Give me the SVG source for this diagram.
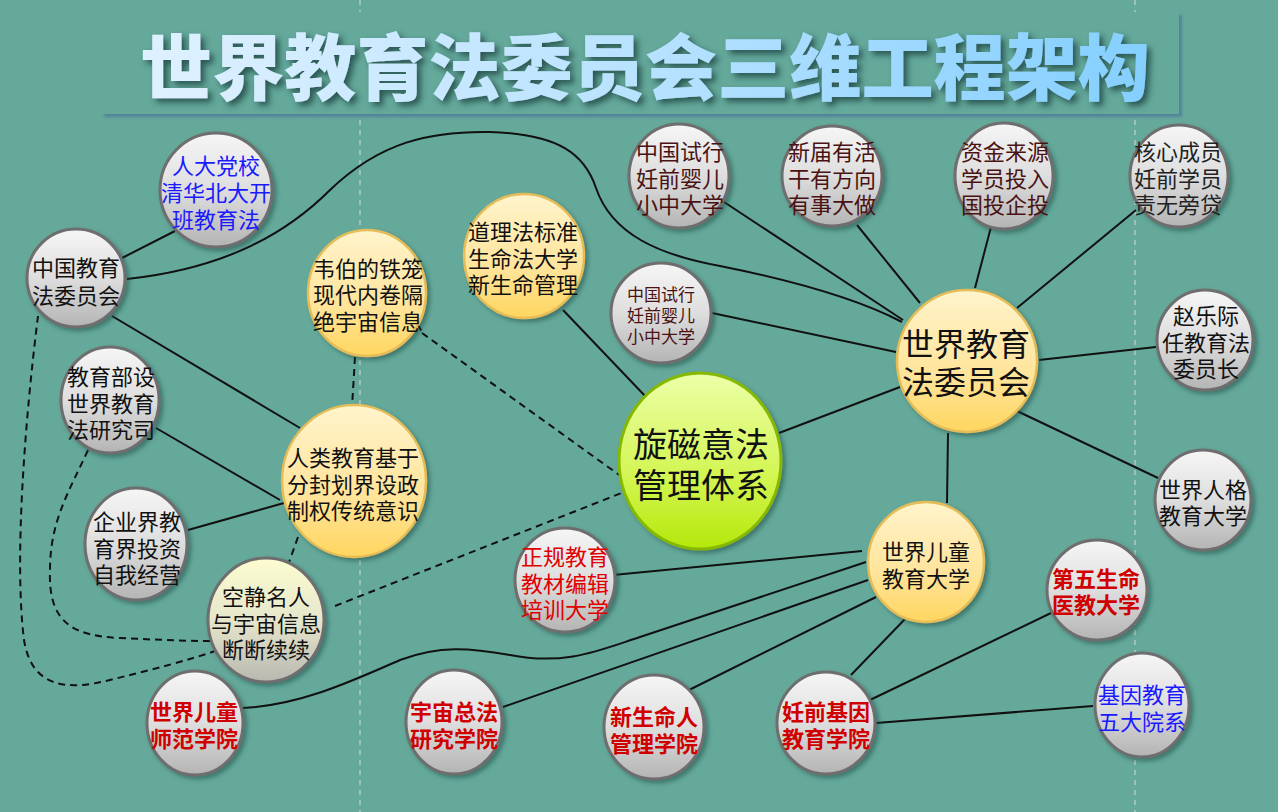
<svg xmlns="http://www.w3.org/2000/svg" width="1278" height="812" viewBox="0 0 1278 812">
<defs>
<linearGradient id="gGray" x1="0" y1="0" x2="0" y2="1"><stop offset="0" stop-color="#f6f6f6"/><stop offset="0.5" stop-color="#dedede"/><stop offset="1" stop-color="#b4b4b4"/></linearGradient>
<linearGradient id="gCream" x1="0" y1="0" x2="0" y2="1"><stop offset="0" stop-color="#fdfdd0"/><stop offset="0.5" stop-color="#e6e6cc"/><stop offset="1" stop-color="#b8b8b0"/></linearGradient>
<linearGradient id="gYel" x1="0" y1="0" x2="0" y2="1"><stop offset="0" stop-color="#fff4cc"/><stop offset="0.6" stop-color="#ffe49a"/><stop offset="1" stop-color="#ffd660"/></linearGradient>
<linearGradient id="gGrn" x1="0" y1="0" x2="0" y2="1"><stop offset="0" stop-color="#ecffa8"/><stop offset="0.6" stop-color="#d2f550"/><stop offset="1" stop-color="#b4e80a"/></linearGradient>
<linearGradient id="gTitle" gradientUnits="userSpaceOnUse" x1="140" y1="0" x2="1150" y2="0"><stop offset="0" stop-color="#dff1ff"/><stop offset="0.5" stop-color="#b8e2ff"/><stop offset="1" stop-color="#84cfff"/></linearGradient>
<filter id="sh" x="-20%" y="-20%" width="150%" height="150%"><feDropShadow dx="3" dy="3" stdDeviation="2" flood-color="#24504a" flood-opacity="0.55"/></filter>
<filter id="tsh" x="-5%" y="-20%" width="110%" height="150%"><feDropShadow dx="4" dy="4" stdDeviation="3" flood-color="#1c4644" flood-opacity="0.85"/></filter>
<filter id="bsh" x="-5%" y="-20%" width="110%" height="150%"><feDropShadow dx="3" dy="3" stdDeviation="1.5" flood-color="#4f7f98" flood-opacity="0.9"/></filter>
</defs>
<style>
.gray{fill:url(#gGray);stroke:#6e6e6e;stroke-width:3;filter:url(#sh)}
.cream{fill:url(#gCream);stroke:#6e6e6e;stroke-width:3;filter:url(#sh)}
.yel{fill:url(#gYel);stroke:#e4bc58;stroke-width:2.5;filter:url(#sh)}
.grn{fill:url(#gGrn);stroke:#86b800;stroke-width:3;filter:url(#sh)}
.e{fill:none;stroke:#111;stroke-width:2}
.d{stroke-dasharray:7 5}
text{font-family:"Noto Sans CJK SC","Noto Sans",sans-serif;text-anchor:middle;dominant-baseline:central}
.t{font-size:22px;fill:#111}
.s17{font-size:17px}
.f32{font-size:32px}
.f34{font-size:34px}
.b{fill:#1a1aff}
.r{fill:#e00000}
.rb{fill:#d00000;font-weight:700}
.m{fill:#4a1212}
.k{fill:#222}
.vl{stroke:#d2dcd6;stroke-width:1;stroke-dasharray:5 5}
</style>
<rect width="1278" height="812" fill="#65a99b"/>
<line class="vl" x1="360" y1="0" x2="360" y2="812"/>
<line class="vl" x1="1135" y1="0" x2="1135" y2="812"/>
<g id="title">
<rect x="101" y="12" width="1078" height="102" fill="#65a99b" filter="url(#bsh)"/>
<text x="645" y="62" font-size="72" font-weight="900" fill="url(#gTitle)" filter="url(#tsh)" textLength="1010" lengthAdjust="spacingAndGlyphs">世界教育法委员会三维工程架构</text>
</g>
<g id="connectors">
<line class="e" x1="122" y1="258" x2="175" y2="231"/>
<path class="e" d="M127,279 C230,268 290,230 330,190 C380,142 430,131 490,132 C560,134 585,155 596,188 C612,235 660,255 720,266 C800,282 860,300 902,322"/>
<line class="e" x1="112" y1="316" x2="300" y2="428"/>
<line class="e" x1="156" y1="428" x2="280" y2="500"/>
<line class="e" x1="188" y1="530" x2="284" y2="503"/>
<line class="e d" x1="355" y1="357" x2="352" y2="407"/>
<line class="e d" x1="298" y1="537" x2="288" y2="565"/>
<line class="e d" x1="422" y1="333" x2="622" y2="477"/>
<line class="e d" x1="335" y1="606" x2="624" y2="492"/>
<path class="e d" d="M38,316 C25,420 14,560 24,640 C32,690 70,690 110,680 C150,670 190,660 218,650"/>
<path class="e d" d="M88,450 C70,490 50,520 50,570 C48,622 72,636 120,638 C160,640 190,641 212,641"/>
<path class="e" d="M243,708 C300,705 350,682 400,660 C440,645 470,648 510,655 C565,666 600,650 640,637 L866,562"/>
<line class="e" x1="503" y1="707" x2="868" y2="580"/>
<line class="e" x1="613" y1="575" x2="862" y2="551"/>
<line class="e" x1="689" y1="690" x2="876" y2="597"/>
<line class="e" x1="851" y1="675" x2="905" y2="619" stroke-width="3"/>
<line class="e" x1="870" y1="700" x2="1051" y2="613"/>
<line class="e" x1="876" y1="723" x2="1093" y2="706"/>
<line class="e" x1="948" y1="433" x2="947" y2="503"/>
<line class="e" x1="1017" y1="411" x2="1158" y2="478"/>
<line class="e" x1="1039" y1="360" x2="1156" y2="347"/>
<line class="e" x1="779" y1="433" x2="900" y2="387"/>
<line class="e" x1="563" y1="310" x2="647" y2="398" stroke-width="2.5"/>
<line class="e" x1="712" y1="313" x2="896" y2="352"/>
<line class="e" x1="721" y1="200" x2="903" y2="320" stroke-width="2.5"/>
<line class="e" x1="857" y1="225" x2="920" y2="303"/>
<line class="e" x1="991" y1="227" x2="975" y2="288" stroke-width="2.5"/>
<line class="e" x1="1136" y1="210" x2="1017" y2="308"/>
</g>
<g id="n-zgjy"><ellipse class="gray" cx="76" cy="278" rx="49" ry="49"/><text class="t"><tspan x="76" y="266">中国教育</tspan><tspan x="76" y="294">法委员会</tspan></text></g>
<g id="n-rdd"><ellipse class="gray" cx="216" cy="190" rx="56" ry="57"/><text class="t b"><tspan x="216" y="164">人大党校</tspan><tspan x="216" y="191">清华北大开</tspan><tspan x="216" y="218">班教育法</tspan></text></g>
<g id="n-jyb"><ellipse class="gray" cx="110" cy="400" rx="49" ry="53"/><text class="t"><tspan x="111" y="375">教育部设</tspan><tspan x="111" y="402">世界教育</tspan><tspan x="111" y="428">法研究司</tspan></text></g>
<g id="n-qyj"><ellipse class="gray" cx="136" cy="544" rx="51" ry="56"/><text class="t"><tspan x="137" y="520">企业界教</tspan><tspan x="137" y="547">育界投资</tspan><tspan x="137" y="573">自我经营</tspan></text></g>
<g id="n-kjmr"><ellipse class="cream" cx="266" cy="620" rx="58" ry="62"/><text class="t"><tspan x="266" y="595">空静名人</tspan><tspan x="266" y="622">与宇宙信息</tspan><tspan x="266" y="648">断断续续</tspan></text></g>
<g id="n-sjetsf"><ellipse class="gray" cx="195" cy="723" rx="48" ry="52"/><text class="t rb"><tspan x="194" y="710">世界儿童</tspan><tspan x="194" y="737">师范学院</tspan></text></g>
<g id="n-yzzf"><ellipse class="gray" cx="454" cy="722" rx="48" ry="52"/><text class="t rb"><tspan x="454" y="710">宇宙总法</tspan><tspan x="454" y="737">研究学院</tspan></text></g>
<g id="n-zgjy2"><ellipse class="gray" cx="565" cy="580" rx="50" ry="52"/><text class="t r"><tspan x="565" y="555">正规教育</tspan><tspan x="565" y="582">教材编辑</tspan><tspan x="565" y="608">培训大学</tspan></text></g>
<g id="n-xsmr"><ellipse class="gray" cx="654" cy="727" rx="50" ry="52"/><text class="t rb"><tspan x="654" y="715">新生命人</tspan><tspan x="654" y="742">管理学院</tspan></text></g>
<g id="n-rqjy"><ellipse class="gray" cx="826" cy="723" rx="49" ry="51"/><text class="t rb"><tspan x="826" y="710">妊前基因</tspan><tspan x="826" y="737">教育学院</tspan></text></g>
<g id="n-dwsm"><ellipse class="gray" cx="1097" cy="590" rx="50" ry="50"/><text class="t rb"><tspan x="1096" y="577">第五生命</tspan><tspan x="1096" y="603">医教大学</tspan></text></g>
<g id="n-jyjy"><ellipse class="gray" cx="1142" cy="705" rx="47" ry="52"/><text class="t b"><tspan x="1142" y="693">基因教育</tspan><tspan x="1142" y="720">五大院系</tspan></text></g>
<g id="n-sjrg"><ellipse class="gray" cx="1203" cy="500" rx="48" ry="50"/><text class="t"><tspan x="1203" y="488">世界人格</tspan><tspan x="1203" y="514">教育大学</tspan></text></g>
<g id="n-zlj"><ellipse class="gray" cx="1205" cy="340" rx="48" ry="50"/><text class="t"><tspan x="1206" y="314">赵乐际</tspan><tspan x="1206" y="341">任教育法</tspan><tspan x="1206" y="367">委员长</tspan></text></g>
<g id="n-hxcy"><ellipse class="gray" cx="1179" cy="176" rx="49" ry="51"/><text class="t k"><tspan x="1178" y="150">核心成员</tspan><tspan x="1178" y="177">妊前学员</tspan><tspan x="1178" y="203">责无旁贷</tspan></text></g>
<g id="n-zjly"><ellipse class="gray" cx="1004" cy="176" rx="49" ry="53"/><text class="t m"><tspan x="1005" y="150">资金来源</tspan><tspan x="1005" y="177">学员投入</tspan><tspan x="1005" y="203">国投企投</tspan></text></g>
<g id="n-xjyh"><ellipse class="gray" cx="832" cy="176" rx="50" ry="50"/><text class="t m"><tspan x="832" y="150">新届有活</tspan><tspan x="832" y="177">干有方向</tspan><tspan x="832" y="203">有事大做</tspan></text></g>
<g id="n-zgsx1"><ellipse class="gray" cx="679" cy="176" rx="50" ry="52"/><text class="t m"><tspan x="680" y="150">中国试行</tspan><tspan x="680" y="177">妊前婴儿</tspan><tspan x="680" y="203">小中大学</tspan></text></g>
<g id="n-zgsx2"><ellipse class="gray" cx="661" cy="313" rx="50" ry="50"/><text class="t m s17"><tspan x="661" y="293">中国试行</tspan><tspan x="661" y="314">妊前婴儿</tspan><tspan x="661" y="335">小中大学</tspan></text></g>
<g id="n-wb"><ellipse class="yel" cx="367" cy="293" rx="59" ry="63"/><text class="t"><tspan x="368" y="267">韦伯的铁笼</tspan><tspan x="368" y="293">现代内卷隔</tspan><tspan x="368" y="320">绝宇宙信息</tspan></text></g>
<g id="n-dlf"><ellipse class="yel" cx="524" cy="256" rx="60" ry="62"/><text class="t"><tspan x="523" y="230">道理法标准</tspan><tspan x="523" y="257">生命法大学</tspan><tspan x="523" y="283">新生命管理</tspan></text></g>
<g id="n-rljy"><ellipse class="yel" cx="354" cy="481" rx="72" ry="76"/><text class="t"><tspan x="353" y="456">人类教育基于</tspan><tspan x="353" y="483">分封划界设政</tspan><tspan x="353" y="509">制权传统意识</tspan></text></g>
<g id="n-sjjyf"><ellipse class="yel" cx="967" cy="361" rx="70" ry="71"/><text class="t f32"><tspan x="966" y="342">世界教育</tspan><tspan x="966" y="380">法委员会</tspan></text></g>
<g id="n-sjetjy"><ellipse class="yel" cx="926" cy="562" rx="58" ry="60"/><text class="t"><tspan x="926" y="550">世界儿童</tspan><tspan x="926" y="577">教育大学</tspan></text></g>
<g id="n-xcyf"><ellipse class="grn" cx="700" cy="461" rx="81" ry="88"/><text class="t f34"><tspan x="701" y="442">旋磁意法</tspan><tspan x="701" y="483">管理体系</tspan></text></g>
</svg>
